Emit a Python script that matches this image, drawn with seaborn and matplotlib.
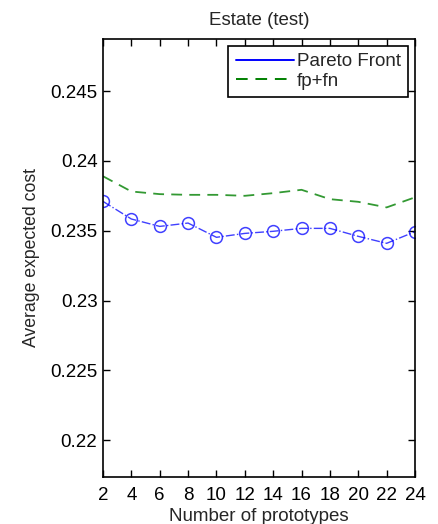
import matplotlib
matplotlib.use("Agg")
import matplotlib.pyplot as plt
import seaborn as sns
import pandas as pd
from matplotlib.lines import Line2D

prototypes = [2, 4, 6, 8, 10, 12, 14, 16, 18, 20, 22, 24]
pareto = [0.2371, 0.23584, 0.23531, 0.23555, 0.23453, 0.23481, 0.23496, 0.23517, 0.23517, 0.2346, 0.2341, 0.23493]
fpfn = [0.2389, 0.23781, 0.23762, 0.23757, 0.23757, 0.2375, 0.23769, 0.23793, 0.23726, 0.23707, 0.23667, 0.23739]
yticks = [0.22, 0.225, 0.23, 0.235, 0.24, 0.245]
ytick_labels = ["0.22", "0.225", "0.23", "0.235", "0.24", "0.245"]

sns.set_style("ticks")
plt.rcParams['font.family'] = ['Liberation Sans', 'DejaVu Sans']

df_p = pd.DataFrame({"x": prototypes, "y": pareto})
df_f = pd.DataFrame({"x": prototypes, "y": fpfn})

fig = plt.figure(figsize=(4.39, 5.24), dpi=100)
ax = fig.add_axes([0.2346, 0.0903, 0.9453 - 0.2346, 0.925 - 0.0903])

sns.lineplot(data=df_p, x="x", y="y", ax=ax, color="#0000ff", lw=1.0, linestyle="-.",
             marker="o", markersize=8.5, markerfacecolor="none", markeredgecolor="#0000ff",
             markeredgewidth=1.1, alpha=0.75)
sns.lineplot(data=df_f, x="x", y="y", ax=ax, color="#008000", lw=1.3, dashes=(6, 4), alpha=0.8)

ax.set_xlim(2, 24)
ax.set_ylim(0.2174, 0.2487)
ax.set_xticks(prototypes)
ax.set_xticklabels([str(v) for v in prototypes])
ax.set_yticks(yticks)
ax.set_yticklabels(ytick_labels)
ax.tick_params(direction="in", top=True, right=True, labelsize=13.5, length=5, width=1, colors="black", pad=4)
ax.tick_params(axis="x", pad=7.5)
for s in ax.spines.values():
    s.set_linewidth(1.2)
    s.set_color("black")

ax.set_title("Estate (test)", fontsize=13.5, pad=10)
ax.set_xlabel("Number of prototypes", fontsize=13.5, labelpad=3)
ax.set_ylabel("Average expected cost", fontsize=12.7, labelpad=7)

handles = [Line2D([], [], color="#0000ff", lw=1.4, linestyle="-"),
           Line2D([], [], color="#008000", lw=1.4, dashes=(6, 4))]
leg = ax.legend(handles, ["Pareto Front", "fp+fn"], loc="upper right", fontsize=13.5,
                frameon=True, fancybox=False, edgecolor="black", framealpha=1,
                borderpad=0.4, handlelength=3.1, labelspacing=0.12, handletextpad=0.15,
                borderaxespad=0.35)
leg.get_frame().set_linewidth(1.2)

fig.savefig("out.png", dpi=100)
